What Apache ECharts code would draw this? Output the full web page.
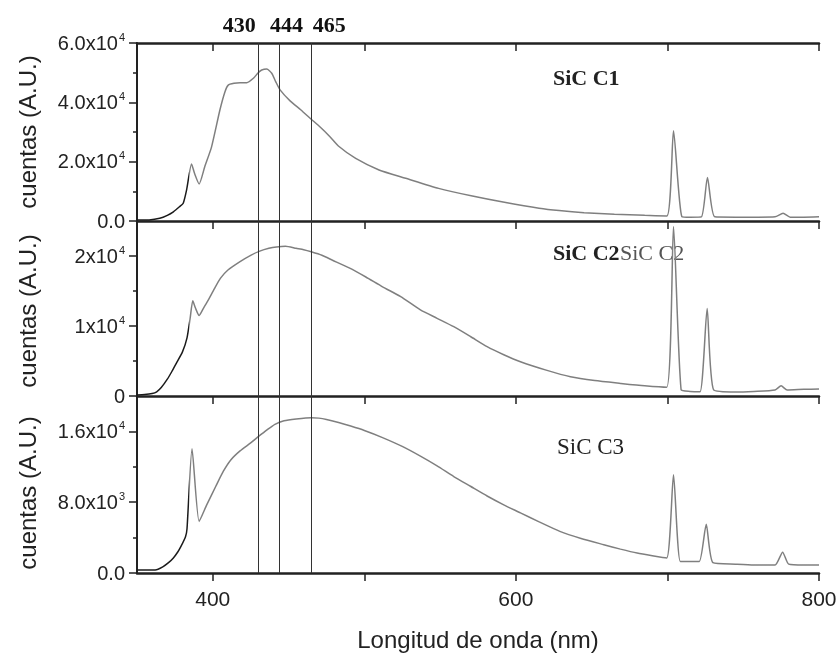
<!DOCTYPE html>
<html>
<head>
<meta charset="utf-8">
<script src="https://cdn.jsdelivr.net/npm/echarts@6/dist/echarts.min.js"></script>
<style>html,body{margin:0;padding:0;background:#fff}#c{width:840px;height:657px}</style>
</head>
<body>
<div id="c"></div>
<script>
// ---- data (wavelength nm, counts) ----
const sicC1 = [[350,300],[358,350],[365,900],[370,1900],[374,3100],[378,4800],[380.5,6000],[382.7,10400],[386,19200],[388,16000],[391,12500],[394.7,18300],[399.2,25000],[404.7,37400],[408,43500],[410.2,45800],[414,46400],[418,46600],[422.4,46600],[426.8,48100],[430,50000],[432.3,50900],[435.6,51200],[438.9,49800],[441.5,47000],[444.4,44200],[451,40500],[458,37500],[465,34300],[471,31600],[477,28600],[483.3,25100],[494.3,21100],[509.7,17200],[527.3,14400],[549,11000],[571.3,8400],[593.3,6200],[615.3,4300],[628.5,3500],[645,2800],[665,2300],[685,1900],[699.6,1700],[704,30400],[709.5,1500],[715,1300],[722.4,1400],[726.4,14700],[731.2,1400],[745,1300],[760,1300],[771,1400],[776.3,2600],[781,1300],[790,1300],[800,1400]];
const sicC2 = [[350,150],[355,200],[360,350],[363,600],[366,1200],[370,2400],[373,3500],[376,4700],[380,6300],[383,8300],[385,11000],[386.8,13600],[388.5,12600],[391,11500],[394,12600],[397,13700],[401,15300],[405,16800],[410,18000],[418,19200],[425,20100],[431,20700],[437,21100],[442,21300],[448,21400],[455,21100],[460,20900],[465,20600],[472,20100],[479,19400],[490,18300],[501,17000],[512,15600],[524,14200],[537,12300],[548,11100],[559,9900],[570,8500],[581,7050],[592,5900],[603,4900],[620,3700],[636,2750],[652,2200],[669,1800],[685,1450],[699.5,1240],[704,24200],[709,900],[715,650],[721.5,600],[726.2,12500],[730.5,860],[745,560],[757,650],[771,850],[775,1450],[779,850],[790,950],[800,1000]];
const sicC3 = [[350,340],[355,330],[362,340],[367,700],[371,1200],[374,1700],[377,2400],[379,3000],[382,4100],[383,5000],[386.3,14050],[391,5830],[396,7700],[402,9800],[407,11500],[412,12800],[418,13800],[425,14700],[430,15400],[436,16200],[441,16800],[447,17200],[455,17400],[465,17550],[470,17500],[475,17350],[483,17000],[491,16600],[500,16100],[512,15300],[525,14300],[537,13200],[548,12100],[559,10900],[570,9800],[581,8700],[592,7700],[603,6800],[615,5800],[629,4700],[643,3900],[658,3200],[669,2700],[680,2250],[690,1950],[699.5,1700],[704,11100],[708.5,1300],[715,1300],[721,1300],[725.6,5500],[730,1170],[745,1000],[757,900],[771,900],[776,2350],[780,1000],[790,900],[800,900]];

const markedWavelengths = [430, 444, 465];
const xTickValues = [400, 500, 600, 700, 800];
const xLabelValues = [400, 600, 800];

// y axis ticks: [value, mantissa, exponent]
const yLabels1 = [[0,'0.0',''],[20000,'2.0x10','4'],[40000,'4.0x10','4'],[60000,'6.0x10','4']];
const yMinor1 = [10000, 30000, 50000];
const yLabels2 = [[0,'0',''],[10000,'1x10','4'],[20000,'2x10','4']];
const yMinor2 = [5000, 15000];
const yLabels3 = [[0,'0.0',''],[8000,'8.0x10','3'],[16000,'1.6x10','4']];
const yMinor3 = [4000, 12000];
const yMax = [60000, 25000, 20000];
const panelNames = ['SiC C1', 'SiC C2', 'SiC C3'];

const chart = echarts.init(document.getElementById('c'));
const AX = '#222';
const sansFont = 'Liberation Sans, Arial, sans-serif';
const serifFont = 'Liberation Serif, Times New Roman, serif';

const grids = [
  {left:137, right:21, top:43, height:178},
  {left:137, right:21, top:221, height:175},
  {left:137, right:21, top:396, height:177}
];

function xAxisFor(i, showLabel) {
  return {
    type:'value', gridIndex:i, position:'bottom', min:350, max:800, interval:50,
    axisLine:{show:true, onZero:false, lineStyle:{color:AX, width:2.5}},
    axisTick:{show:true, customValues:xTickValues, inside:false, length:8, lineStyle:{color:AX, width:1.5}},
    axisLabel:{show:showLabel, customValues:xLabelValues, margin:17, color:AX, fontSize:21, fontFamily:sansFont},
    splitLine:{show:false}
  };
}
const xAxes = [xAxisFor(0,false), xAxisFor(1,false), xAxisFor(2,true)];
xAxes.push({
  type:'value', gridIndex:0, position:'top', min:350, max:800, interval:50,
  axisLine:{show:true, onZero:false, lineStyle:{color:AX, width:2.5}},
  axisTick:{show:true, customValues:xTickValues, inside:true, length:8, lineStyle:{color:AX, width:1.5}},
  axisLabel:{show:false}, splitLine:{show:false}
});
xAxes[2].name = 'Longitud de onda (nm)';
xAxes[2].nameLocation = 'middle';
xAxes[2].nameGap = 56;
xAxes[2].nameTextStyle = {color:AX, fontSize:24, fontFamily:sansFont};

function labelFmt(list) {
  return function(v) {
    for (const l of list) {
      if (Math.abs(l[0]-v) < 1e-6) return l[2] ? '{m|'+l[1]+'}{s|'+l[2]+'}' : '{m|'+l[1]+'}';
    }
    return '';
  };
}
const rich = {
  m:{fontSize:20, color:AX, fontFamily:sansFont, lineHeight:22, verticalAlign:'bottom'},
  s:{fontSize:11, color:AX, fontFamily:sansFont, lineHeight:22, verticalAlign:'top', padding:[0,0,0,1]}
};
const yLabelSets = [yLabels1, yLabels2, yLabels3];
const yMinorSets = [yMinor1, yMinor2, yMinor3];
const yAxes = [];
for (let i=0;i<3;i++) {
  const vals = yLabelSets[i].map(l=>l[0]);
  yAxes.push({
    type:'value', gridIndex:i, position:'left', min:0, max:yMax[i], interval:yMax[i]/(i===0?6:5),
    axisLine:{show:true, onZero:false, lineStyle:{color:AX, width:2}},
    axisTick:{show:true, customValues:vals, length:8, lineStyle:{color:AX, width:1.5}},
    axisLabel:{show:true, customValues:vals, formatter:labelFmt(yLabelSets[i]), rich:rich, margin:12},
    splitLine:{show:false}
  });
}
for (let i=0;i<3;i++) {
  yAxes.push({
    type:'value', gridIndex:i, position:'left', offset:0, min:0, max:yMax[i], interval:yMax[i]/(i===0?6:5),
    axisLine:{show:false, onZero:false},
    axisTick:{show:true, customValues:yMinorSets[i], length:4, lineStyle:{color:AX, width:1.5}},
    axisLabel:{show:false}, splitLine:{show:false}
  });
}

const datasets = [sicC1, sicC2, sicC3];
const series = datasets.map((d,i)=>({
  type:'line', xAxisIndex:i, yAxisIndex:i, data:d, showSymbol:false, symbol:'none',
  smooth:0.2,
  lineStyle:{width:1.5}, z:3,
  markLine:{
    silent:true, symbol:'none', label:{show:false},
    lineStyle:{color:'#333', width:1, type:'solid'},
    data: markedWavelengths.map(w=>({xAxis:w}))
  }
}));
const visualMap = [0,1,2].map(i=>({
  type:'piecewise', show:false, seriesIndex:i, dimension:0,
  pieces:[{gte:340, lt:384, color:'#1a1a1a'},{gte:384, lte:810, color:'#7f7f7f'}]
}));

chart.setOption({
  animation:false,
  backgroundColor:'#fff',
  grid:grids,
  xAxis:xAxes,
  yAxis:yAxes,
  visualMap:visualMap,
  series:series
});

// annotations
const g = [];
const yTitleCenters = [132, 311, 493];
yTitleCenters.forEach(cy=>{
  g.push({type:'text', x:29, y:cy, rotation:Math.PI/2,
    style:{text:'cuentas (A.U.)', fill:AX, font:'24px '+sansFont, textAlign:'center', textVerticalAlign:'middle'}});
});
const offs = [-19, 7, 18];
markedWavelengths.forEach((w,k)=>{
  const px = chart.convertToPixel({xAxisIndex:0}, w);
  g.push({type:'text', x:px+offs[k], y:26,
    style:{text:String(w), fill:'#111', font:'bold 22px '+serifFont, textAlign:'center', textVerticalAlign:'middle'}});
});
g.push({type:'text', x:553, y:79, style:{text:panelNames[0], fill:'#222', font:'bold 22px '+serifFont, textAlign:'left', textVerticalAlign:'middle'}});
g.push({type:'text', x:553, y:254, style:{text:panelNames[1], fill:'#222', font:'bold 22px '+serifFont, textAlign:'left', textVerticalAlign:'middle'}});
g.push({type:'text', x:620, y:254, z:-1, style:{text:panelNames[1], fill:'#555', font:'22px '+serifFont, textAlign:'left', textVerticalAlign:'middle'}});
g.push({type:'text', x:557, y:448, style:{text:panelNames[2], fill:'#222', font:'23px '+serifFont, textAlign:'left', textVerticalAlign:'middle'}});
chart.setOption({graphic:g});
</script>
</body>
</html>
